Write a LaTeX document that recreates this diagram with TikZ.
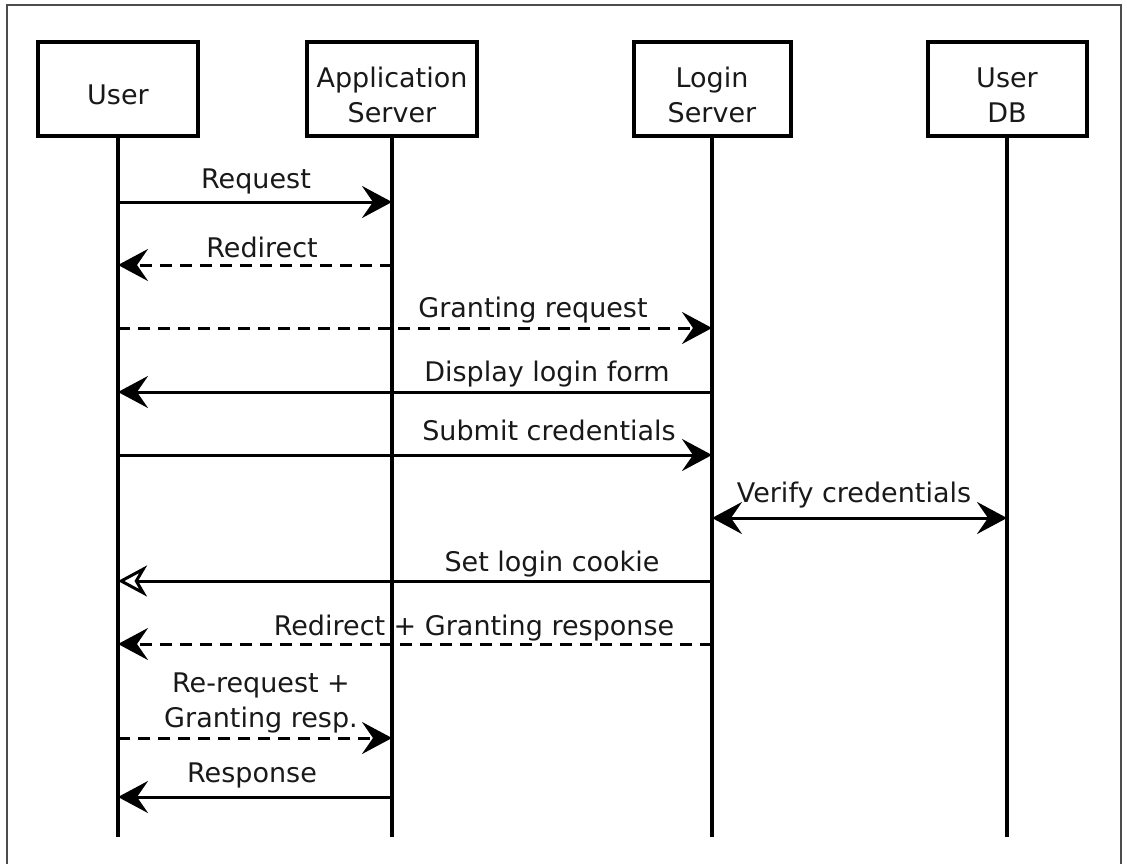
\documentclass[tikz,border=0pt]{standalone}
\usepackage{fontspec}
\setmainfont{DejaVu Sans}
\usetikzlibrary{arrows.meta}
\begin{document}
\begin{tikzpicture}[x=1pt,y=-1pt,
  actor/.style 2 args={draw,line width=4pt,minimum height=94pt,inner sep=0pt,
    label={[name=#1,font=\fontsize{27}{35}\selectfont,align=center,yshift=-6pt,text=black!90]center:#2}},
  life/.style={line width=3.5pt},
  lbl/.style={anchor=base,inner sep=0pt,font=\fontsize{27}{35}\selectfont,align=center,text=black!90},
  msg/.style={line width=3pt,-{Stealth[length=30pt,width=32pt,inset=11pt]}},
  dmsg/.style={msg,dash pattern=on 12pt off 8pt},
  omsg/.style={line width=3pt,-{Stealth[open,length=29pt,width=31pt,inset=9pt,line width=3pt]}},
  bimsg/.style={line width=3pt,{Stealth[length=30pt,width=32pt,inset=11pt]}-{Stealth[length=30pt,width=32pt,inset=11pt]}}
]
\useasboundingbox (0,0) rectangle (1127,863);
\draw[line width=1.5pt,black!70] (7,5) rectangle (1121,875);

% actors
\node[actor={userT}{User},minimum width=160pt] (user) at (118,89) {};
\node[actor={appT}{Application\\Server},minimum width=170pt] (app) at (392,89) {};
\node[actor={loginT}{Login\\Server},minimum width=157pt] (login) at (712,89) {};
\node[actor={dbT}{User\\DB},minimum width=159pt] (db) at (1007,89) {};

% lifeline ends
\coordinate (userE) at (118,837);
\coordinate (appE) at (392,837);
\coordinate (loginE) at (712,837);
\coordinate (dbE) at (1007,837);
\draw[life] (user.south) -- (userE);
\draw[life] (app.south) -- (appE);
\draw[life] (login.south) -- (loginE);
\draw[life] (db.south) -- (dbE);

% message end points on lifelines
\coordinate (u1) at (118,202); \coordinate (a1) at (392,202);
\coordinate (u2) at (118,265); \coordinate (a2) at (392,265);
\coordinate (u3) at (118,328); \coordinate (l3) at (712,328);
\coordinate (u4) at (118,392); \coordinate (l4) at (712,392);
\coordinate (u5) at (118,455); \coordinate (l5) at (712,455);
\coordinate (l6) at (712,518); \coordinate (d6) at (1007,518);
\coordinate (u7) at (118,581); \coordinate (l7) at (712,581);
\coordinate (u8) at (118,644); \coordinate (l8) at (712,644);
\coordinate (u9) at (118,738); \coordinate (a9) at (392,738);
\coordinate (u10) at (118,797); \coordinate (a10) at (392,797);

\draw[msg] (u1) -- (a1);
\draw[dmsg] (a2) -- (u2);
\draw[dmsg] (u3) -- (l3);
\draw[msg] (l4) -- (u4);
\draw[msg] (u5) -- (l5);
\draw[bimsg] (l6) -- (d6);
\draw[omsg] (l7) -- (u7);
\draw[dmsg] (l8) -- (u8);
\draw[dmsg] (u9) -- (a9);
\draw[msg] (a10) -- (u10);

% labels
\node[lbl] (t1) at (256,188) {Request};
\node[lbl] (t2) at (262,257) {Redirect};
\node[lbl] (t3) at (533,317) {Granting request};
\node[lbl] (t4) at (547,381) {Display login form};
\node[lbl] (t5) at (549,440) {Submit credentials};
\node[lbl] (t6) at (854,502) {Verify credentials};
\node[lbl] (t7) at (552,571) {Set login cookie};
\node[lbl] (t8) at (474,635) {Redirect + Granting response};
\node[lbl] (t9a) at (261,692) {Re-request +};
\node[lbl] (t9b) at (261,727) {Granting resp.};
\node[lbl] (t10) at (252,782) {Response};
\end{tikzpicture}
\end{document}
